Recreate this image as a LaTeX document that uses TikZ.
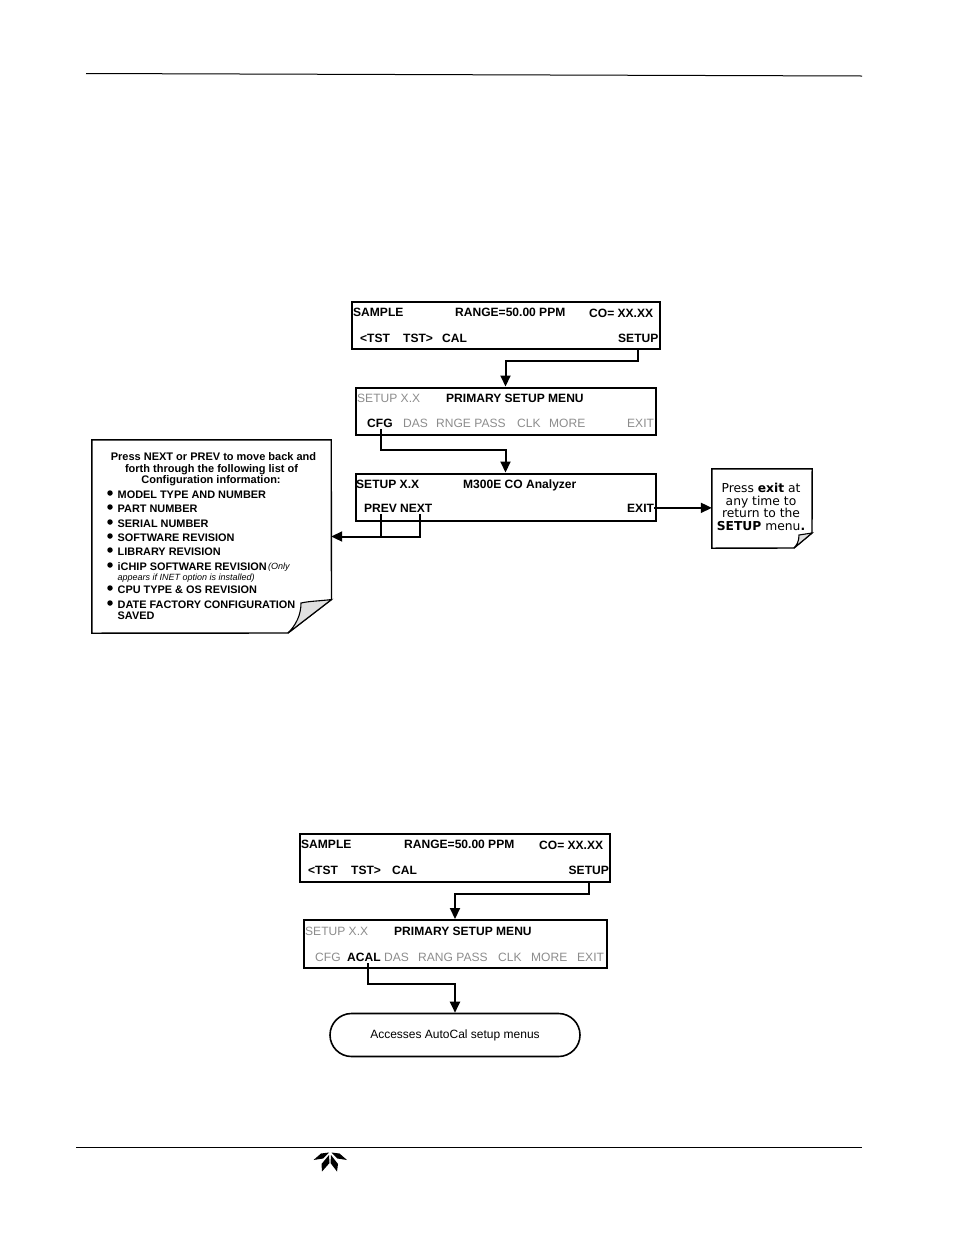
\documentclass[tikz,border=0pt]{standalone}
\usepackage{fontspec}
\setmainfont{Liberation Sans}
\newfontfamily\djv{DejaVu Sans}
\usetikzlibrary{arrows.meta,shapes.misc}
\definecolor{dim}{gray}{0.55}
\tikzset{
 x=1pt,y=-1pt,
 panel/.style={draw=black,line width=2pt,rectangle,inner sep=0pt},
 lbl/.style={anchor=base west,inner sep=0pt,font=\fontsize{12.05}{14}\selectfont\bfseries,text=black},
 dimlbl/.style={anchor=base west,inner sep=0pt,font=\fontsize{12.05}{14}\selectfont,text=dim},
 conn/.style={draw=black,line width=2pt},
 arrowed/.style={conn,-{Triangle[length=11pt,width=10pt]}},
 notehead/.style={anchor=base,inner sep=0pt,font=\fontsize{11}{12}\selectfont\bfseries},
 item/.style={anchor=base west,inner sep=0pt,font=\fontsize{10.9}{12}\selectfont\bfseries},
 itemsmall/.style={anchor=base west,inner sep=0pt,font=\fontsize{9}{10}\selectfont\itshape},
 dot/.style={circle,fill=black,inner sep=0pt,minimum size=5.5pt},
 sheet/.style={draw=black,line width=1.4pt,fill=white},
 fold/.style={draw=black,line width=1.1pt,fill=black!12},
 petal/.style={fill=black,draw=none},
 rule/.style={draw=black,line width=1pt},
 exitline/.style={anchor=base,inner sep=0pt,font=\djv\fontsize{12.3}{14}\selectfont},
}
\begin{document}
\begin{tikzpicture}
\useasboundingbox (0,0) rectangle (954,1235);
\draw[rule] (86,73.5) -- (862,76);
\draw[rule] (76,1147) -- (862,1147);
% logo
\fill[petal] (313.5,1160) -- (321,1153.5) -- (329,1152.5) -- (323,1158.5) -- cycle;
\fill[petal] (347,1160) -- (339.5,1153.5) -- (331.5,1152.5) -- (337.5,1158.5) -- cycle;
\fill[petal] (322,1171.5) -- (321.5,1164) -- (329,1155) -- (329.5,1163) -- cycle;
\fill[petal] (337,1171.5) -- (338,1164) -- (331,1155) -- (330.5,1163) -- cycle;

% upper panels
\node[panel,minimum width=308pt,minimum height=47pt] (pa) at (505.5,325) {};
\node[panel,minimum width=300pt,minimum height=47pt] (pb) at (505.5,411) {};
\node[panel,minimum width=300pt,minimum height=47pt] (pc) at (505.5,497) {};
\node[lbl] (a1) at (353,316) {SAMPLE};
\node[lbl] (a2) at (455,316) {RANGE=50.00 PPM};
\node[lbl] (a3) at (589,317) {CO= XX.XX};
\node[lbl] (a4) at (360,342) {<TST};
\node[lbl] (a5) at (403,342) {TST>};
\node[lbl] (a6) at (442,342) {CAL};
\node[lbl] (a7) at (618,342) {SETUP};
\node[dimlbl] (b1) at (357,402) {SETUP X.X};
\node[lbl] (b2) at (446,402) {PRIMARY SETUP MENU};
\node[lbl] (b3) at (367,427) {CFG};
\node[dimlbl] (b4) at (403,427) {DAS};
\node[dimlbl] (b5) at (436,427) {RNGE PASS};
\node[dimlbl] (b6) at (517,427) {CLK};
\node[dimlbl] (b7) at (549,427) {MORE};
\node[dimlbl] (b8) at (627,427) {EXIT};
\node[lbl] (c1) at (356,488) {SETUP X.X};
\node[lbl] (c2) at (463,488) {M300E CO Analyzer};
\node[lbl] (c3) at (364,512) {PREV};
\node[lbl] (c4) at (400,512) {NEXT};
\node[lbl] (c5) at (627,512) {EXIT};

% notes
\node[minimum width=239pt,minimum height=193pt,inner sep=0pt] (na) at (211.5,536.5) {};
\draw[sheet] (na.north west) -- (na.north east) -- (331.5,599.5) -- (288,633) -- (na.south west) -- cycle;
\draw[fold] (331.5,599.5) .. controls (320,601) and (310,601) .. (301,603) .. controls (301,615) and (296,625) .. (288,633) -- cycle;
\node[notehead] (h1) at (213.5,460) {Press NEXT or PREV to move back and};
\node[notehead] (h2) at (211.5,472) {forth through the following list of};
\node[notehead] (h3) at (211,483) {Configuration information:};
\node[dot] (d1) at (110,493) {}; \node[item] (i1) at (117.5,498) {MODEL TYPE AND NUMBER};
\node[dot] (d2) at (110,507) {}; \node[item] (i2) at (117.5,512) {PART NUMBER};
\node[dot] (d3) at (110,522) {}; \node[item] (i3) at (117.5,527) {SERIAL NUMBER};
\node[dot] (d4) at (110,536) {}; \node[item] (i4) at (117.5,541) {SOFTWARE REVISION};
\node[dot] (d5) at (110,550) {}; \node[item] (i5) at (117.5,555) {LIBRARY REVISION};
\node[dot] (d6) at (110,565) {}; \node[item] (i6) at (117.5,570) {iCHIP SOFTWARE REVISION};
\node[itemsmall] (i6a) at (268,569) {(Only};
\node[itemsmall] (i6b) at (117.5,580) {appears if INET option is installed)};
\node[dot] (d7) at (110,588) {}; \node[item] (i7) at (117.5,593) {CPU TYPE \& OS REVISION};
\node[dot] (d8) at (110,603) {}; \node[item] (i8) at (117.5,608) {DATE FACTORY CONFIGURATION};
\node[item] (i9) at (117.5,619) {SAVED};

\node[minimum width=100pt,minimum height=79pt,inner sep=0pt] (nb) at (762,508.5) {};
\draw[sheet] (nb.north west) -- (nb.north east) -- (812,533) -- (794,548) -- (nb.south west) -- cycle;
\draw[fold] (812,533) -- (799,535) .. controls (799,541) and (797,545) .. (794,548) -- cycle;
\node[exitline] (t1) at (761,492) {Press \textbf{exit} at};
\node[exitline] (t2) at (761,505) {any time to};
\node[exitline] (t3) at (761,517) {return to the};
\node[exitline] (t4) at (761,530) {\textbf{SETUP} menu\textbf{.}};

% upper connectors
\coordinate (ea) at (0,361);
\coordinate (eb) at (0,450);
\draw[arrowed] (a7 |- pa.south) |- (ea -| pb.north) -- (pb.north);
\draw[arrowed] ([xshift=1pt,yshift=-2pt]b3.south) |- (eb -| pc.north) -- (pc.north);
\draw[arrowed] ([xshift=4pt,yshift=-2pt]c4.south) |- (na.east);
\draw[conn] ([yshift=-2pt]c3.south) -- (c3.south |- na.east);
\draw[arrowed] (c5.east) -- (c5.east -| nb.west);

% lower panels
\node[panel,minimum width=310pt,minimum height=48pt] (pd) at (454.5,857.5) {};
\node[panel,minimum width=303pt,minimum height=48pt] (pe) at (455,944) {};
\node[lbl] (d1a) at (301,848) {SAMPLE};
\node[lbl] (d2a) at (404,848) {RANGE=50.00 PPM};
\node[lbl] (d3a) at (539,849) {CO= XX.XX};
\node[lbl] (d4a) at (308,874) {<TST};
\node[lbl] (d5a) at (351,874) {TST>};
\node[lbl] (d6a) at (392,874) {CAL};
\node[lbl] (d7a) at (568.5,874) {SETUP};
\node[dimlbl] (e1) at (305,935) {SETUP X.X};
\node[lbl] (e2) at (394,935) {PRIMARY SETUP MENU};
\node[dimlbl] (e3) at (315,961) {CFG};
\node[lbl] (e4) at (347,961) {ACAL};
\node[dimlbl] (e5) at (384,961) {DAS};
\node[dimlbl] (e6) at (418,961) {RANG PASS};
\node[dimlbl] (e7) at (498,961) {CLK};
\node[dimlbl] (e8) at (531,961) {MORE};
\node[dimlbl] (e9) at (577,961) {EXIT};
\node[draw=black,line width=1.6pt,rounded rectangle,minimum width=250pt,minimum height=43pt,inner sep=0pt,font=\fontsize{12}{14}\selectfont] (ov) at (455,1035) {Accesses AutoCal setup menus};
\coordinate (ec) at (0,894);
\coordinate (ed) at (0,984);
\draw[arrowed] (d7a |- pd.south) |- (ec -| pe.north) -- (pe.north);
\draw[arrowed] ([xshift=4pt,yshift=-2pt]e4.south) |- (ed -| ov.north) -- (ov.north);
\end{tikzpicture}
\end{document}
